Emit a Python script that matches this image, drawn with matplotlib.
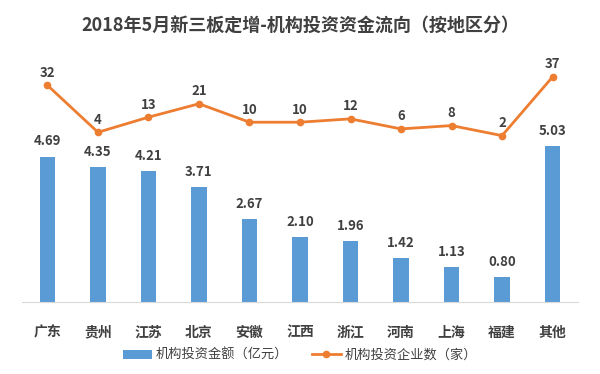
import numpy as np
import matplotlib.pyplot as plt

plt.rcParams['font.family'] = ['Noto Sans CJK SC', 'DejaVu Sans']

regions = ['广东', '贵州', '江苏', '北京', '安徽', '江西', '浙江', '河南', '上海', '福建', '其他']
amount = [4.69, 4.35, 4.21, 3.71, 2.67, 2.10, 1.96, 1.42, 1.13, 0.80, 5.03]
firms = [32, 4, 13, 21, 10, 10, 12, 6, 8, 2, 37]

blue = '#5B9BD5'
orange = '#ED7D31'
txt = '#404040'

fig = plt.figure(figsize=(6, 3.74), dpi=100)
ax = fig.add_axes([0.037, 0.1925, 0.926, 0.674])
x = np.arange(len(regions))

bars = ax.bar(x, amount, width=0.3, color=blue, zorder=2)
for xi, v in zip(x, amount):
    ax.annotate(f'{v:.2f}', (xi, v), xytext=(0, 6), textcoords='offset points',
                ha='center', va='bottom', fontsize=9.5, fontweight='bold', color=txt)
ax.set_ylim(0, 8.13)
ax.set_xlim(-0.5, len(regions) - 0.5)
ax.set_yticks([])
ax.set_xticks(x)
ax.set_xticklabels(regions, fontsize=10, color=txt, fontweight='bold')
ax.tick_params(axis='x', length=0, pad=17)
for s in ['top', 'right', 'left']:
    ax.spines[s].set_visible(False)
ax.spines['bottom'].set_color('#D9D9D9')

ax2 = ax.twinx()
line, = ax2.plot(x, firms, color=orange, lw=2, marker='o', markersize=4.5)
for xi, v in zip(x, firms):
    ax2.annotate(str(v), (xi, v), xytext=(0, 4), textcoords='offset points',
                 ha='center', va='bottom', fontsize=9.5, fontweight='bold', color=txt)
ax2.set_ylim(-97.2, 53.1)
ax2.set_yticks([])
for s in ['top', 'right', 'left', 'bottom']:
    ax2.spines[s].set_visible(False)

fig.text(0.5, 0.93, '2018年5月新三板定增-机构投资资金流向（按地区分）',
         ha='center', va='center', fontsize=13, fontweight='bold', color=txt)

fig.legend([bars, line], ['机构投资金额（亿元）', '机构投资企业数（家）'],
           loc='center', bbox_to_anchor=(0.5, 0.05), ncol=2, frameon=False,
           fontsize=9.5, labelcolor=txt, handlelength=2.2, handletextpad=0.3,
           columnspacing=1.8)

fig.savefig('out.png', dpi=100)
